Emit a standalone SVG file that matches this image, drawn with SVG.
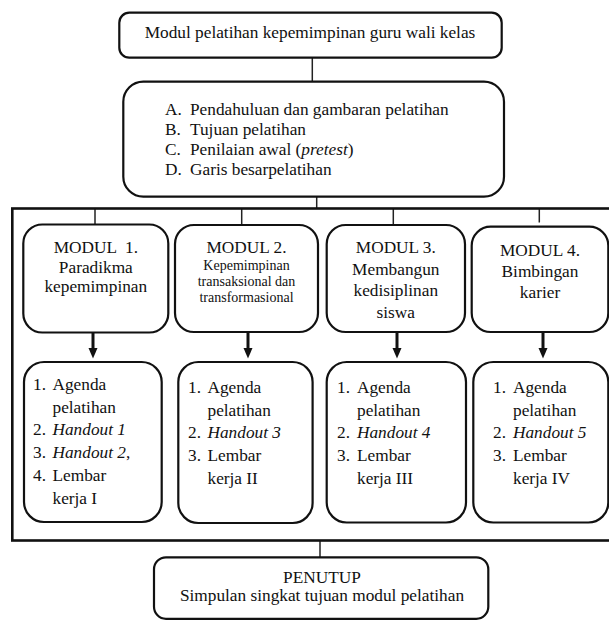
<svg xmlns="http://www.w3.org/2000/svg" width="609" height="621" viewBox="0 0 609 621">
<defs>
<style>
.box{fill:#fff;stroke:#111;stroke-width:2.2}
.outer{fill:none;stroke:#111;stroke-width:2.6}
.ln{stroke:#222;stroke-width:1.5;fill:none}
.arr{stroke:#111;stroke-width:3;fill:none}
.head{fill:#111}
.c{text-anchor:middle}
.s{font-size:14px}
.i{font-style:italic}
</style>
</defs>
<rect width="609" height="621" fill="#fff"/>
<g id="connectors">
<line class="ln" x1="312.3" y1="57.7" x2="312.3" y2="81.7"/>
<line class="ln" x1="316.7" y1="196.7" x2="316.7" y2="208.5"/>
<line class="ln" x1="95" y1="208.5" x2="95" y2="225"/>
<line class="ln" x1="241.7" y1="208.5" x2="241.7" y2="225"/>
<line class="ln" x1="393.3" y1="208.5" x2="393.3" y2="225"/>
<line class="ln" x1="539.3" y1="208.5" x2="539.3" y2="222.5"/>
<line class="ln" x1="320" y1="540.5" x2="320" y2="557.3"/>
<line class="arr" x1="93" y1="332.5" x2="93" y2="349"/>
<polygon class="head" points="88.5,348 97.5,348 93,358.5"/>
<line class="arr" x1="248" y1="332" x2="248" y2="349"/>
<polygon class="head" points="243.5,348 252.5,348 248,358.5"/>
<line class="arr" x1="397" y1="332" x2="397" y2="349"/>
<polygon class="head" points="392.5,348 401.5,348 397,358.5"/>
<line class="arr" x1="543" y1="332" x2="543" y2="349"/>
<polygon class="head" points="538.5,348 547.5,348 543,358.5"/>
</g>
<g id="frame">
<rect class="outer" x="12.3" y="208.5" width="620" height="332"/>
</g>
<g font-family="'Liberation Serif', 'DejaVu Serif', serif" font-size="17.3" fill="#111">
<g id="title">
<rect class="box" x="119.3" y="12.7" width="382.4" height="45" rx="10"/>
<text class="c" x="310" y="37.5">Modul pelatihan kepemimpinan guru wali kelas</text>
</g>
<g id="intro">
<rect class="box" x="123.3" y="81.7" width="380.7" height="115" rx="20"/>
<text x="165" y="115">A.</text><text x="190" y="115">Pendahuluan dan gambaran pelatihan</text>
<text x="165" y="135">B.</text><text x="190" y="135">Tujuan pelatihan</text>
<text x="165" y="155">C.</text><text x="190" y="155">Penilaian awal (<tspan class="i">pretest</tspan>)</text>
<text x="165" y="175">D.</text><text x="190" y="175">Garis besarpelatihan</text>
</g>
<g id="modul1">
<rect class="box" x="23.3" y="224.5" width="145" height="108" rx="19"/>
<text class="c" x="95.8" y="253.3" xml:space="preserve">MODUL  1.</text>
<text class="c" x="95.8" y="272.5">Paradikma</text>
<text class="c" x="95.8" y="291.5">kepemimpinan</text>
</g>
<g id="modul2">
<rect class="box" x="175" y="225" width="143" height="107" rx="19"/>
<text class="c" x="246.5" y="253.3">MODUL 2.</text>
<text class="c s" x="246.5" y="269.5">Kepemimpinan</text>
<text class="c s" x="246.5" y="285.7">transaksional dan</text>
<text class="c s" x="246.5" y="301.7">transformasional</text>
</g>
<g id="modul3">
<rect class="box" x="326.7" y="225" width="138.3" height="107" rx="19"/>
<text class="c" x="395.8" y="253.3">MODUL 3.</text>
<text class="c" x="395.8" y="274.5">Membangun</text>
<text class="c" x="395.8" y="296">kedisiplinan</text>
<text class="c" x="395.8" y="317.5">siswa</text>
</g>
<g id="modul4">
<rect class="box" x="471.7" y="226.7" width="136.6" height="105.3" rx="19"/>
<text class="c" x="540" y="256">MODUL 4.</text>
<text class="c" x="540" y="277">Bimbingan</text>
<text class="c" x="540" y="297.5">karier</text>
</g>
<g id="isi1">
<rect class="box" x="24" y="362" width="137.7" height="160" rx="20"/>
<text x="33" y="390">1.</text><text x="52.5" y="390">Agenda</text>
<text x="52.5" y="412.5">pelatihan</text>
<text x="33" y="435">2.</text><text x="52.5" y="435" class="i">Handout 1</text>
<text x="33" y="458">3.</text><text x="52.5" y="458"><tspan class="i">Handout 2</tspan>,</text>
<text x="33" y="481">4.</text><text x="52.5" y="481">Lembar</text>
<text x="52.5" y="504">kerja I</text>
</g>
<g id="isi2">
<rect class="box" x="178.3" y="362" width="134.3" height="161" rx="20"/>
<text x="188" y="393">1.</text><text x="207.5" y="393">Agenda</text>
<text x="207.5" y="415.5">pelatihan</text>
<text x="188" y="438">2.</text><text x="207.5" y="438" class="i">Handout 3</text>
<text x="188" y="461">3.</text><text x="207.5" y="461">Lembar</text>
<text x="207.5" y="484">kerja II</text>
</g>
<g id="isi3">
<rect class="box" x="326.7" y="362" width="139.3" height="160.5" rx="20"/>
<text x="337" y="393">1.</text><text x="357" y="393">Agenda</text>
<text x="357" y="415.5">pelatihan</text>
<text x="337" y="438">2.</text><text x="357" y="438" class="i">Handout 4</text>
<text x="337" y="461">3.</text><text x="357" y="461">Lembar</text>
<text x="357" y="484">kerja III</text>
</g>
<g id="isi4">
<rect class="box" x="473.3" y="362" width="135" height="160.5" rx="20"/>
<text x="493" y="393">1.</text><text x="513" y="393">Agenda</text>
<text x="513" y="415.5">pelatihan</text>
<text x="493" y="438">2.</text><text x="513" y="438" class="i">Handout 5</text>
<text x="493" y="461">3.</text><text x="513" y="461">Lembar</text>
<text x="513" y="484">kerja IV</text>
</g>
<g id="penutup">
<rect class="box" x="154" y="557.3" width="334.3" height="61.5" rx="12"/>
<text class="c" x="322" y="582.7">PENUTUP</text>
<text class="c" x="322" y="600.5">Simpulan singkat tujuan modul pelatihan</text>
</g>
</g>
</svg>
